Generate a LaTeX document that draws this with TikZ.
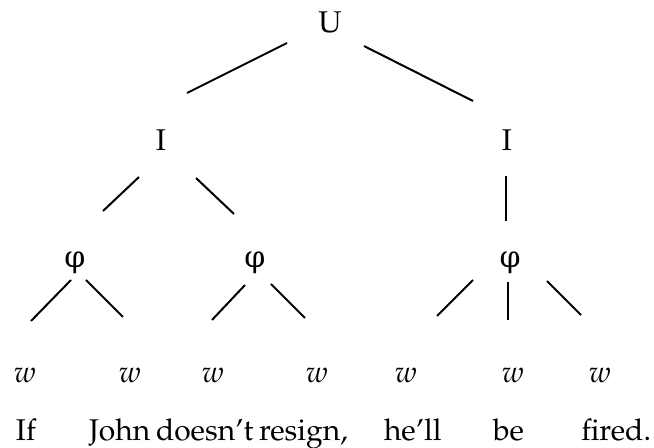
\documentclass[tikz,border=0pt]{standalone}
\usepackage{fontspec}
\newfontfamily\phifont{DejaVu Serif}
\usepackage[T1]{fontenc}
\usepackage{mathpazo}

\begin{document}
\begin{tikzpicture}[x = 0.5pt, y = -0.5pt, line width = 1pt, font = \fontsize{15}{18}\selectfont]
\useasboundingbox (0,0) rectangle (654,448);
\draw
    (330,22) node(u){U}
    (161,140) node(i1){I}
    (507,140) node(i2){I}
    (75,263) node(p1){\phifont φ}
    (255,263) node(p2){\phifont φ}
    (510,263) node(p3){\phifont φ}
    (25,375) node(w1){$w$}
    (130,375) node(w2){$w$}
    (213,375) node(w3){$w$}
    (317,375) node(w4){$w$}
    (406,375) node(w5){$w$}
    (513,375) node(w6){$w$}
    (600,375) node(w7){$w$};

% the sentence, words set by their left edge
\draw[every node/.style = {anchor = base west, inner sep = 0pt}]
    (15,441) node(s1){If}
    (88,441) node(s2){John}
    (155,441) node(s3){doesn't}
    (258,441) node(s4){resign,}
    (383,441) node(s5){he'll}
    (492,441) node(s6){be}
    (652,441) node[anchor = base east](s7){fired.};

    \draw ([shift={(-43,21)}]u.center) -- ([shift={(26,-47)}]i1.center);
    \draw ([shift={(34,24)}]u.center) -- ([shift={(-34,-39)}]i2.center);

    \draw ([shift={(-22,37)}]i1.center) -- ([shift={(28,-52)}]p1.center);
    \draw ([shift={(35,38)}]i1.center) -- ([shift={(-21,-49)}]p2.center);
    \draw ([shift={(-1,36)}]i2.center) -- ([shift={(-4,-42)}]p3.center);

    \draw ([shift={(-4,17)}]p1.center) -- ([shift={(6,-54)}]w1.center);
    \draw ([shift={(11,17)}]p1.center) -- ([shift={(-7,-58)}]w2.center);
    \draw ([shift={(-10,22)}]p2.center) -- ([shift={(-1,-55)}]w3.center);
    \draw ([shift={(16,21)}]p2.center) -- ([shift={(-12,-57)}]w4.center);
    \draw ([shift={(-37,17)}]p3.center) -- ([shift={(31,-59)}]w5.center);
    \draw ([shift={(-2,19)}]p3.center) -- ([shift={(-5,-55)}]w6.center);
    \draw ([shift={(37,18)}]p3.center) -- ([shift={(-19,-60)}]w7.center);

\end{tikzpicture}
\end{document}
